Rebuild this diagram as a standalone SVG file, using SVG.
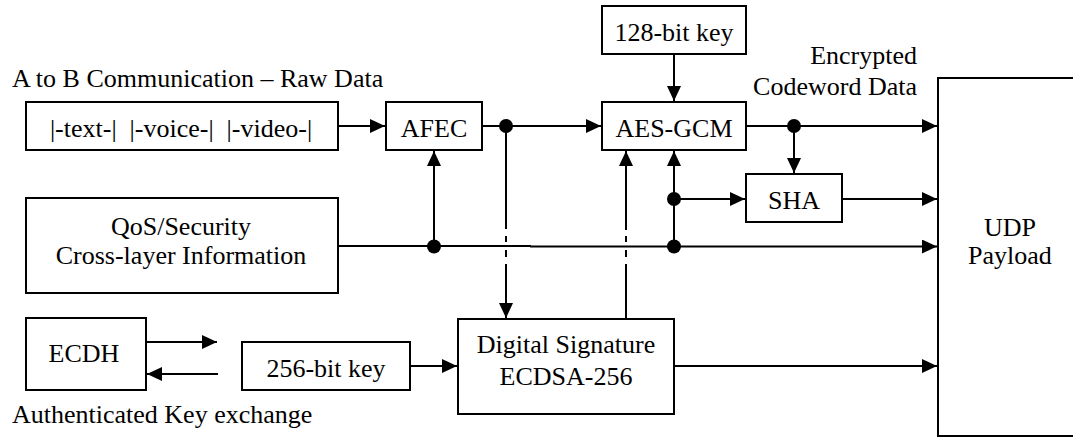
<svg xmlns="http://www.w3.org/2000/svg" width="1073" height="438" viewBox="0 0 1073 438">
  <style>
    .box { fill: #fff; stroke: #000; stroke-width: 2; }
    .ln { fill: none; stroke: #000; stroke-width: 2; }
    .dot { fill: #000; }
    text { font-family: "Liberation Serif", "Times New Roman", serif; font-size: 26px; fill: #000; }
    .c { text-anchor: middle; }
    .r { text-anchor: end; }
  </style>
  <defs>
    <marker id="arr" markerUnits="userSpaceOnUse" markerWidth="16" markerHeight="14" refX="15" refY="7" orient="auto">
      <path d="M0,0 L15,7 L0,14 z" fill="#000"/>
    </marker>
  </defs>

  <rect width="1073" height="438" fill="#fff"/>

  <!-- free labels -->
  <text x="12" y="87">A to B Communication – Raw Data</text>
  <text class="r" x="917" y="64">Encrypted</text>
  <text class="r" x="917" y="95">Codeword Data</text>
  <text x="12" y="423">Authenticated Key exchange</text>

  <!-- connectors -->
  <g id="connectors">
    <!-- raw data to AFEC -->
    <path class="ln" d="M338,126 H385" marker-end="url(#arr)"/>
    <!-- AFEC to AES-GCM -->
    <path class="ln" d="M482,126 H601" marker-end="url(#arr)"/>
    <!-- 128-bit key to AES-GCM -->
    <path class="ln" d="M674,54 V101" marker-end="url(#arr)"/>
    <!-- AES-GCM output to UDP payload -->
    <path class="ln" d="M746,126 H937" marker-end="url(#arr)"/>
    <!-- tap into SHA -->
    <path class="ln" d="M794,126 V173" marker-end="url(#arr)"/>
    <!-- SHA to UDP payload -->
    <path class="ln" d="M842,199 H937" marker-end="url(#arr)"/>
    <!-- cross-layer bus -->
    <path class="ln" d="M338,246 H531"/>
    <path class="ln" d="M530,246.5 H937" marker-end="url(#arr)"/>
    <!-- cross-layer info to AFEC -->
    <path class="ln" d="M434,246.5 V151" marker-end="url(#arr)"/>
    <!-- cross-layer info to AES-GCM -->
    <path class="ln" d="M674,246.5 V151" marker-end="url(#arr)"/>
    <!-- cross-layer info to SHA -->
    <path class="ln" d="M674,199 H745" marker-end="url(#arr)"/>
    <!-- coded data down to digital signature (broken where it crosses the bus) -->
    <path class="ln" d="M506,126 V229 M506,236 V242 M506,250 V257"/>
    <path class="ln" d="M506,264 V318" marker-end="url(#arr)"/>
    <!-- signature up to AES-GCM (broken where it crosses the bus) -->
    <path class="ln" d="M626,319 V264 M626,257 V250 M626,242 V236"/>
    <path class="ln" d="M626,230 V151" marker-end="url(#arr)"/>
    <!-- key exchange -->
    <path class="ln" d="M146,342 H217" marker-end="url(#arr)"/>
    <path class="ln" d="M218,374 H147" marker-end="url(#arr)"/>
    <!-- 256-bit key to digital signature -->
    <path class="ln" d="M410,366 H457" marker-end="url(#arr)"/>
    <!-- digital signature to UDP payload -->
    <path class="ln" d="M674,366 H937" marker-end="url(#arr)"/>
    <!-- junction dots -->
    <circle class="dot" cx="506" cy="126" r="7"/>
    <circle class="dot" cx="434" cy="246.5" r="7"/>
    <circle class="dot" cx="794" cy="126" r="7"/>
    <circle class="dot" cx="674" cy="199" r="7"/>
    <circle class="dot" cx="674" cy="246.5" r="7"/>
  </g>

  <g id="raw-data">
    <rect class="box" x="26" y="102" width="312" height="48"/>
    <text class="c" x="181" y="137" xml:space="preserve">|-text-|  |-voice-|  |-video-|</text>
  </g>

  <g id="afec">
    <rect class="box" x="386" y="102" width="96" height="48"/>
    <text class="c" x="434" y="137">AFEC</text>
  </g>

  <g id="key128">
    <rect class="box" x="602" y="6" width="144" height="48"/>
    <text class="c" x="674" y="41">128-bit key</text>
  </g>

  <g id="aes-gcm">
    <rect class="box" x="602" y="102" width="144" height="48"/>
    <text class="c" x="674" y="137">AES-GCM</text>
  </g>

  <g id="sha">
    <rect class="box" x="746" y="174" width="96" height="48"/>
    <text class="c" x="794" y="209">SHA</text>
  </g>

  <g id="qos">
    <rect class="box" x="26" y="198" width="312" height="95"/>
    <text class="c" x="181" y="235">QoS/Security</text>
    <text class="c" x="181" y="264">Cross-layer Information</text>
  </g>

  <g id="ecdh">
    <rect class="box" x="26" y="318" width="120" height="72"/>
    <text class="c" x="84" y="362">ECDH</text>
  </g>

  <g id="key256">
    <rect class="box" x="242" y="342" width="168" height="48"/>
    <text class="c" x="326" y="377">256-bit key</text>
  </g>

  <g id="digital-signature">
    <rect class="box" x="458" y="319" width="216" height="95"/>
    <text class="c" x="566" y="353">Digital Signature</text>
    <text class="c" x="566" y="385">ECDSA-256</text>
  </g>

  <g id="udp">
    <rect class="box" x="938" y="78" width="150" height="358"/>
    <text class="c" x="1010" y="236">UDP</text>
    <text class="c" x="1010" y="264">Payload</text>
  </g>
</svg>
